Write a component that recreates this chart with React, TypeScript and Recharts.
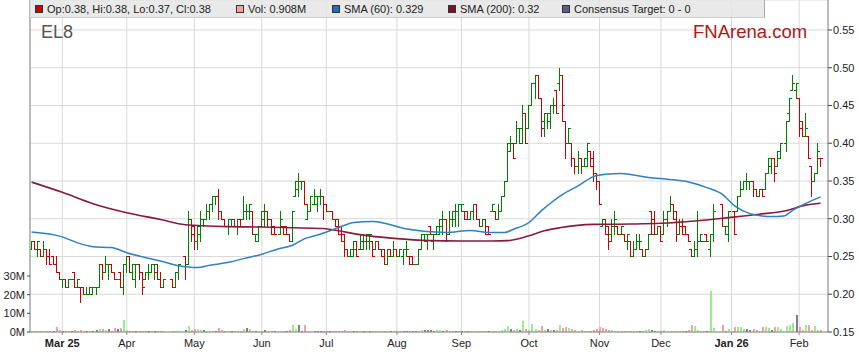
import React from 'react'
import { ComposedChart, Bar, Line, XAxis, YAxis, CartesianGrid } from 'recharts'

// one entry per weekday: [open, high, low, close, volume in millions]; null = ASX holiday
type Day = [number, number, number, number, number] | null

const feb25: Day[] = [
  [0.26, 0.27, 0.26, 0.27, 0.5], [0.27, 0.27, 0.26, 0.26, 0.4], [0.26, 0.27, 0.25, 0.27, 0.6], [0.26, 0.26, 0.25, 0.25, 0.8], [0.25, 0.27, 0.25, 0.26, 0.6],
  [0.26, 0.26, 0.24, 0.25, 0.7], [0.25, 0.26, 0.24, 0.24, 0.6], [0.25, 0.25, 0.24, 0.24, 0.5], [0.24, 0.25, 0.23, 0.23, 2.5], [0.23, 0.23, 0.22, 0.22, 1.2],
]
const mar25: Day[] = [
  [0.22, 0.22, 0.21, 0.22, 0.8], [0.22, 0.22, 0.21, 0.21, 0.6], [0.21, 0.22, 0.21, 0.22, 0.5], [0.22, 0.22, 0.22, 0.22, 0.4], [0.23, 0.23, 0.21, 0.21, 0.9],
  [0.21, 0.22, 0.21, 0.22, 0.6], [0.21, 0.21, 0.19, 0.21, 1.0], [0.21, 0.21, 0.2, 0.2, 0.7], [0.2, 0.21, 0.2, 0.2, 0.5], [0.2, 0.21, 0.2, 0.21, 0.6],
  [0.2, 0.21, 0.2, 0.21, 0.8], [0.21, 0.21, 0.2, 0.21, 1.0], [0.21, 0.24, 0.21, 0.24, 1.6], [0.24, 0.24, 0.22, 0.23, 1.5], [0.23, 0.25, 0.23, 0.24, 1.3],
  [0.24, 0.24, 0.22, 0.24, 1.5], [0.24, 0.24, 0.23, 0.23, 0.6], [0.23, 0.23, 0.22, 0.22, 2.0], [0.22, 0.22, 0.22, 0.22, 1.4], [0.23, 0.23, 0.21, 0.21, 2.0],
  [0.21, 0.24, 0.2, 0.24, 6.6],
]
const apr25: Day[] = [
  [0.24, 0.25, 0.23, 0.25, 1.0], [0.25, 0.25, 0.23, 0.23, 0.8], [0.23, 0.24, 0.22, 0.24, 0.6], [0.22, 0.24, 0.21, 0.24, 0.7], [0.24, 0.24, 0.22, 0.23, 0.5],
  [0.23, 0.23, 0.2, 0.21, 0.8], [0.22, 0.23, 0.22, 0.23, 0.6], [0.23, 0.24, 0.22, 0.23, 0.5], [0.23, 0.24, 0.23, 0.24, 0.6], [0.24, 0.24, 0.22, 0.24, 0.5],
  [0.23, 0.24, 0.22, 0.22, 0.6], [0.22, 0.23, 0.21, 0.21, 0.5], [0.21, 0.22, 0.21, 0.22, 0.5], null, null,
  [0.22, 0.22, 0.21, 0.21, 0.6], [0.21, 0.23, 0.21, 0.23, 0.7], [0.23, 0.24, 0.22, 0.24, 0.8], null, [0.25, 0.25, 0.22, 0.24, 1.0],
  [0.24, 0.31, 0.24, 0.3, 3.4], [0.3, 0.3, 0.27, 0.28, 1.0],
]
const may25: Day[] = [
  [0.29, 0.29, 0.26, 0.27, 1.5], [0.27, 0.29, 0.26, 0.29, 1.6], [0.28, 0.31, 0.27, 0.3, 1.3], [0.3, 0.3, 0.29, 0.3, 1.0], [0.3, 0.32, 0.3, 0.31, 0.8],
  [0.31, 0.32, 0.3, 0.32, 0.6], [0.32, 0.33, 0.31, 0.33, 0.7], [0.33, 0.33, 0.32, 0.33, 0.6], [0.33, 0.34, 0.3, 0.31, 2.3], [0.31, 0.31, 0.3, 0.3, 1.0],
  [0.3, 0.3, 0.29, 0.29, 0.7], [0.29, 0.3, 0.28, 0.3, 0.5], [0.29, 0.3, 0.29, 0.3, 0.6], [0.3, 0.3, 0.29, 0.29, 0.5], [0.29, 0.3, 0.28, 0.3, 0.6],
  [0.3, 0.3, 0.29, 0.29, 0.5], [0.3, 0.33, 0.3, 0.31, 1.5], [0.31, 0.32, 0.3, 0.31, 2.3], [0.31, 0.32, 0.3, 0.32, 1.4], [0.31, 0.31, 0.28, 0.28, 0.6],
  [0.28, 0.28, 0.27, 0.28, 0.5], [0.27, 0.29, 0.27, 0.29, 0.6],
]
const jun25: Day[] = [
  [0.29, 0.31, 0.29, 0.31, 0.7], [0.3, 0.32, 0.29, 0.31, 1.0], [0.31, 0.31, 0.29, 0.3, 0.6], [0.3, 0.3, 0.28, 0.28, 0.5], [0.29, 0.29, 0.28, 0.28, 0.6],
  null, [0.28, 0.31, 0.28, 0.3, 0.5], [0.29, 0.29, 0.28, 0.28, 0.7], [0.29, 0.29, 0.28, 0.28, 0.6], [0.28, 0.28, 0.27, 0.27, 1.2],
  [0.27, 0.31, 0.27, 0.31, 3.9], [0.33, 0.35, 0.33, 0.35, 1.5], [0.34, 0.36, 0.33, 0.35, 3.9], [0.35, 0.35, 0.34, 0.35, 0.8], [0.35, 0.35, 0.32, 0.32, 3.9],
  [0.3, 0.32, 0.3, 0.31, 0.8], [0.31, 0.33, 0.31, 0.33, 0.6], [0.32, 0.34, 0.32, 0.33, 0.7], [0.32, 0.33, 0.31, 0.33, 0.5], [0.33, 0.34, 0.32, 0.33, 0.6],
  [0.33, 0.33, 0.3, 0.32, 0.5],
]
const jul25: Day[] = [
  [0.32, 0.32, 0.31, 0.31, 0.5], [0.31, 0.31, 0.31, 0.31, 0.4], [0.31, 0.31, 0.3, 0.3, 0.6], [0.3, 0.3, 0.29, 0.29, 0.5], [0.3, 0.3, 0.28, 0.28, 0.7],
  [0.29, 0.29, 0.27, 0.27, 0.8], [0.28, 0.28, 0.25, 0.26, 1.0], [0.26, 0.26, 0.25, 0.25, 0.7], [0.25, 0.26, 0.25, 0.26, 0.6], [0.25, 0.27, 0.25, 0.26, 0.5],
  [0.27, 0.27, 0.25, 0.25, 0.6], [0.26, 0.28, 0.26, 0.27, 0.5], [0.26, 0.28, 0.26, 0.27, 0.6], [0.27, 0.28, 0.26, 0.28, 0.5], [0.27, 0.28, 0.26, 0.28, 0.7],
  [0.27, 0.27, 0.25, 0.25, 0.6], [0.26, 0.27, 0.26, 0.27, 0.5], [0.27, 0.27, 0.26, 0.26, 0.6], [0.26, 0.26, 0.25, 0.25, 0.5], [0.26, 0.26, 0.24, 0.24, 0.7],
  [0.24, 0.26, 0.24, 0.25, 0.6], [0.26, 0.26, 0.25, 0.25, 0.5], [0.25, 0.27, 0.25, 0.26, 0.6],
]
const aug25: Day[] = [
  [0.26, 0.26, 0.25, 0.25, 0.5], [0.25, 0.26, 0.25, 0.26, 0.6], [0.25, 0.26, 0.24, 0.26, 0.5], [0.26, 0.27, 0.25, 0.26, 0.7], [0.25, 0.25, 0.24, 0.24, 0.6],
  [0.25, 0.25, 0.24, 0.24, 0.5], [0.24, 0.24, 0.24, 0.24, 0.5], [0.24, 0.26, 0.24, 0.26, 0.8], [0.26, 0.28, 0.26, 0.28, 1.2], [0.28, 0.28, 0.27, 0.28, 0.9],
  [0.27, 0.28, 0.26, 0.28, 1.0], [0.29, 0.29, 0.28, 0.28, 1.2], [0.27, 0.28, 0.26, 0.28, 0.8], [0.28, 0.29, 0.28, 0.29, 0.9], [0.28, 0.3, 0.28, 0.3, 1.0],
  [0.29, 0.31, 0.28, 0.3, 0.8], [0.3, 0.3, 0.27, 0.28, 0.9], [0.28, 0.31, 0.28, 0.3, 0.7], [0.3, 0.31, 0.29, 0.31, 0.8], [0.3, 0.32, 0.29, 0.31, 0.6],
  [0.31, 0.32, 0.29, 0.32, 0.7],
]
const sep25: Day[] = [
  [0.32, 0.32, 0.31, 0.32, 0.5], [0.31, 0.31, 0.3, 0.3, 0.6], [0.31, 0.31, 0.3, 0.3, 0.5], [0.3, 0.31, 0.3, 0.31, 0.6], [0.31, 0.32, 0.3, 0.32, 0.5],
  [0.32, 0.32, 0.3, 0.3, 0.6], [0.3, 0.3, 0.29, 0.29, 0.5], [0.29, 0.3, 0.29, 0.3, 0.6], [0.3, 0.3, 0.28, 0.28, 0.5], [0.29, 0.29, 0.28, 0.28, 0.6],
  [0.31, 0.32, 0.31, 0.32, 0.7], [0.31, 0.31, 0.3, 0.3, 0.6], [0.3, 0.32, 0.3, 0.31, 0.8], [0.31, 0.33, 0.31, 0.33, 1.0], [0.33, 0.35, 0.33, 0.35, 1.5],
  [0.35, 0.4, 0.35, 0.4, 3.4], [0.39, 0.41, 0.39, 0.4, 1.5], [0.4, 0.4, 0.38, 0.38, 1.3], [0.4, 0.43, 0.4, 0.42, 1.5], [0.42, 0.42, 0.4, 0.42, 1.0],
  [0.4, 0.45, 0.4, 0.44, 6.0], [0.44, 0.44, 0.4, 0.4, 1.5],
]
const oct25: Day[] = [
  [0.42, 0.45, 0.42, 0.45, 1.2], [0.45, 0.48, 0.45, 0.48, 4.5], [0.48, 0.49, 0.46, 0.49, 1.5], [0.49, 0.49, 0.46, 0.46, 1.2], [0.46, 0.46, 0.41, 0.42, 3.4],
  [0.43, 0.44, 0.41, 0.44, 1.0], [0.44, 0.44, 0.42, 0.44, 1.5], [0.43, 0.45, 0.42, 0.45, 1.0], [0.45, 0.46, 0.44, 0.45, 1.0], [0.47, 0.47, 0.44, 0.44, 1.3],
  [0.48, 0.5, 0.47, 0.49, 3.9], [0.49, 0.49, 0.43, 0.45, 2.3], [0.43, 0.43, 0.38, 0.4, 2.8], [0.4, 0.42, 0.4, 0.42, 2.0], [0.4, 0.4, 0.37, 0.38, 1.5],
  [0.38, 0.38, 0.36, 0.37, 1.0], [0.37, 0.39, 0.36, 0.38, 0.8], [0.38, 0.38, 0.36, 0.37, 0.9], [0.37, 0.38, 0.37, 0.38, 0.8], [0.37, 0.4, 0.37, 0.4, 0.7],
  [0.39, 0.39, 0.37, 0.37, 0.6], [0.38, 0.39, 0.35, 0.36, 1.0], [0.36, 0.36, 0.34, 0.35, 1.5],
]
const nov25: Day[] = [
  [0.35, 0.35, 0.32, 0.32, 2.5], [0.29, 0.3, 0.29, 0.3, 2.0], [0.3, 0.3, 0.28, 0.28, 1.5], [0.29, 0.29, 0.26, 0.27, 1.2], [0.28, 0.3, 0.27, 0.29, 0.9],
  [0.29, 0.31, 0.28, 0.3, 0.8], [0.29, 0.29, 0.28, 0.28, 0.7], [0.28, 0.29, 0.28, 0.29, 0.5], [0.28, 0.28, 0.27, 0.27, 0.6], [0.27, 0.28, 0.26, 0.28, 0.5],
  [0.27, 0.27, 0.25, 0.25, 0.5], [0.25, 0.27, 0.25, 0.26, 0.6], [0.26, 0.28, 0.26, 0.27, 0.6], [0.27, 0.28, 0.26, 0.27, 0.7], [0.26, 0.26, 0.25, 0.25, 0.8],
  [0.25, 0.26, 0.25, 0.26, 1.0], [0.26, 0.28, 0.26, 0.28, 1.5], [0.31, 0.31, 0.28, 0.28, 1.2], [0.3, 0.31, 0.28, 0.28, 0.8], [0.28, 0.29, 0.28, 0.29, 0.7],
]
const dec25: Day[] = [
  [0.29, 0.29, 0.27, 0.27, 0.8], [0.28, 0.31, 0.28, 0.3, 0.9], [0.3, 0.31, 0.29, 0.31, 0.6], [0.31, 0.33, 0.31, 0.32, 0.8], [0.32, 0.32, 0.3, 0.3, 0.5],
  [0.31, 0.31, 0.27, 0.28, 0.5], [0.28, 0.3, 0.28, 0.29, 0.6], [0.29, 0.3, 0.28, 0.28, 0.5], [0.29, 0.29, 0.28, 0.28, 0.6], [0.28, 0.28, 0.27, 0.27, 1.0],
  [0.26, 0.26, 0.25, 0.25, 3.9], [0.25, 0.27, 0.25, 0.26, 3.0], [0.26, 0.31, 0.25, 0.27, 1.2], [0.27, 0.28, 0.27, 0.28, 0.8], [0.27, 0.27, 0.27, 0.27, 0.6],
  [0.28, 0.28, 0.27, 0.27, 0.7], [0.26, 0.28, 0.25, 0.28, 22], [0.28, 0.32, 0.27, 0.31, 2.0], null, null,
  [0.32, 0.32, 0.29, 0.29, 3.9], [0.29, 0.29, 0.28, 0.29, 0.6], [0.28, 0.31, 0.27, 0.31, 1.5],
]
const jan26: Day[] = [
  null, [0.31, 0.31, 0.28, 0.28, 2.5], [0.31, 0.33, 0.31, 0.33, 2.8], [0.33, 0.35, 0.33, 0.34, 2.6], [0.34, 0.35, 0.34, 0.35, 1.4],
  [0.35, 0.36, 0.34, 0.35, 1.4], [0.35, 0.35, 0.34, 0.35, 1.3], [0.35, 0.35, 0.33, 0.34, 1.4], [0.34, 0.34, 0.33, 0.33, 1.2], [0.33, 0.34, 0.33, 0.34, 0.8],
  [0.34, 0.34, 0.33, 0.33, 2.5], [0.34, 0.36, 0.34, 0.36, 2.6], [0.36, 0.38, 0.36, 0.38, 2.4], [0.37, 0.38, 0.36, 0.38, 1.0], [0.38, 0.38, 0.35, 0.36, 2.5],
  [0.37, 0.39, 0.37, 0.39, 2.9], [0.38, 0.4, 0.38, 0.4, 1.5], null, [0.4, 0.43, 0.39, 0.43, 3.4], [0.44, 0.46, 0.43, 0.46, 3.6],
  [0.47, 0.49, 0.47, 0.48, 4.8], [0.47, 0.48, 0.46, 0.48, 9.3],
]
const feb26: Day[] = [
  [0.46, 0.46, 0.41, 0.42, 2.9], [0.43, 0.43, 0.41, 0.41, 1.0], [0.41, 0.44, 0.41, 0.42, 3.6], [0.41, 0.41, 0.38, 0.38, 3.8], [0.37, 0.37, 0.33, 0.35, 1.0],
  [0.35, 0.36, 0.35, 0.36, 3.4], [0.36, 0.4, 0.36, 0.39, 1.2], [0.38, 0.38, 0.37, 0.38, 0.908],
]

// moving averages at sample dates
const sma60Pts: [string, number][] = [
  ['2025-02-17', 0.2825], ['2025-03-03', 0.276], ['2025-03-10', 0.268], ['2025-03-17', 0.263], ['2025-03-25', 0.2618],
  ['2025-04-01', 0.255], ['2025-04-09', 0.2486], ['2025-04-16', 0.244], ['2025-04-24', 0.2376], ['2025-04-29', 0.236],
  ['2025-05-02', 0.2353], ['2025-05-08', 0.2384], ['2025-05-19', 0.243], ['2025-05-23', 0.2472], ['2025-06-02', 0.253],
  ['2025-06-09', 0.2596], ['2025-06-16', 0.2649], ['2025-06-20', 0.2737], ['2025-06-27', 0.2794], ['2025-07-07', 0.2883],
  ['2025-07-14', 0.2949], ['2025-07-22', 0.2962], ['2025-07-28', 0.294], ['2025-08-05', 0.2874], ['2025-08-13', 0.2839],
  ['2025-08-19', 0.2826], ['2025-08-25', 0.2817], ['2025-09-04', 0.2844], ['2025-09-12', 0.2817], ['2025-09-19', 0.2817],
  ['2025-09-24', 0.2861], ['2025-10-01', 0.295], ['2025-10-07', 0.3104], ['2025-10-16', 0.3324], ['2025-10-23', 0.3434],
  ['2025-10-30', 0.3558], ['2025-11-05', 0.3589], ['2025-11-12', 0.3598], ['2025-11-18', 0.358], ['2025-11-25', 0.3545],
  ['2025-12-03', 0.3523], ['2025-12-12', 0.3487], ['2025-12-22', 0.3412], ['2025-12-29', 0.3324], ['2026-01-02', 0.317],
  ['2026-01-09', 0.3068], ['2026-01-20', 0.3029], ['2026-01-26', 0.3037], ['2026-01-29', 0.3113], ['2026-02-04', 0.32],
  ['2026-02-11', 0.329],
]
const sma200Pts: [string, number][] = [
  ['2025-02-17', 0.3485], ['2025-03-03', 0.335], ['2025-03-17', 0.32], ['2025-04-01', 0.308], ['2025-04-16', 0.299],
  ['2025-04-28', 0.292], ['2025-05-16', 0.2895], ['2025-06-02', 0.289], ['2025-06-16', 0.288], ['2025-06-30', 0.287],
  ['2025-07-07', 0.284], ['2025-07-16', 0.279], ['2025-07-31', 0.274], ['2025-08-18', 0.271], ['2025-09-01', 0.2705],
  ['2025-09-15', 0.2705], ['2025-09-22', 0.271], ['2025-10-01', 0.2775], ['2025-10-08', 0.284], ['2025-10-15', 0.288],
  ['2025-10-30', 0.2925], ['2025-11-17', 0.293], ['2025-12-01', 0.294], ['2025-12-16', 0.297], ['2025-12-31', 0.3015],
  ['2026-01-14', 0.306], ['2026-01-27', 0.311], ['2026-02-04', 0.318], ['2026-02-11', 0.3205],
]

const monthTicks: [string, string, boolean][] = [
  ['2025-03-03', 'Mar 25', true], ['2025-04-01', 'Apr', false], ['2025-05-01', 'May', false], ['2025-06-02', 'Jun', false],
  ['2025-07-01', 'Jul', false], ['2025-08-01', 'Aug', false], ['2025-09-01', 'Sep', false], ['2025-10-01', 'Oct', false],
  ['2025-11-03', 'Nov', false], ['2025-12-01', 'Dec', false], ['2026-01-01', 'Jan 26', true], ['2026-02-02', 'Feb', false],
]
const priceTicks = [0.15, 0.2, 0.25, 0.3, 0.35, 0.4, 0.45, 0.5, 0.55]
const volTicks = [0, 10, 20, 30]

const FONT = '"Liberation Sans", Arial, Helvetica, sans-serif'
const UP = '#008000'
const DOWN = '#cc0000'
const VOL_UP = '#9aed8e'
const VOL_DOWN = '#f4a1a1'
const VOL_FLAT = '#808080'

function weekdays(start: string, n: number) {
  const out: string[] = []
  const t = new Date(start + 'T00:00:00Z')
  while (out.length < n) {
    const wd = t.getUTCDay()
    if (wd !== 0 && wd !== 6) out.push(t.toISOString().slice(0, 10))
    t.setUTCDate(t.getUTCDate() + 1)
  }
  return out
}

const days: Day[] = [...feb25, ...mar25, ...apr25, ...may25, ...jun25, ...jul25, ...aug25, ...sep25, ...oct25, ...nov25, ...dec25, ...jan26, ...feb26]
const dates = weekdays('2025-02-17', days.length)
const indexOf = new Map(dates.map((d, i) => [d, i]))

let prevClose: number | null = null
const rows: any[] = days.map((d, i) => {
  const r: any = { i, date: dates[i] }
  if (d) {
    const [o, h, l, c, v] = d
    const pc = prevClose ?? o
    r.o = o; r.h = h; r.l = l; r.c = c; r.v = v
    r.color = c > o ? UP : c < o ? DOWN : c >= pc ? UP : DOWN
    r.vcol = c > pc ? VOL_UP : c < pc ? VOL_DOWN : VOL_FLAT
    prevClose = c
  }
  return r
})
sma60Pts.forEach(([d, v]) => { rows[indexOf.get(d)!].sma60 = v })
sma200Pts.forEach(([d, v]) => { rows[indexOf.get(d)!].sma200 = v })

const tickIdx = monthTicks.map(([d]) => indexOf.get(d)!)
const tickInfo = new Map(monthTicks.map(([d, label, bold]) => [indexOf.get(d)!, { label, bold }]))

const last = days.filter(Boolean).slice(-1)[0]!
const legend = [
  { color: '#cc0000', x: 35, text: `Op:${last[0].toFixed(2)}, Hi:${last[1].toFixed(2)}, Lo:${last[2].toFixed(2)}, Cl:${last[3].toFixed(2)}` },
  { color: '#f4a1a1', x: 236, text: `Vol: ${last[4]}M` },
  { color: '#1f6fb0', x: 332, text: `SMA (60): ${sma60Pts[sma60Pts.length - 1][1]}` },
  { color: '#7c1230', x: 448, text: `SMA (200): ${sma200Pts[sma200Pts.length - 1][1].toFixed(2)}` },
  { color: '#5c5c8a', x: 562, text: 'Consensus Target: 0 - 0' },
]

const ohlcRange = (r: any) => (r.h == null ? null : [r.l, r.h > r.l ? r.h : r.h + 0.001])

function OhlcShape(props: any) {
  const { x, y, width, height, payload: p } = props
  if (!p || p.h == null || x == null) return <g />
  const top = p.h > p.l ? p.h : p.h + 0.001
  const k = Math.abs(height) / (top - p.l)
  const y0 = Math.min(y, y + height)
  const py = (v: number) => Math.round(y0 + (top - v) * k)
  const cx = Math.round(x + width / 2 - 0.5)
  const yh = py(p.h)
  const yl = py(p.l)
  return (
    <g fill={p.color} shapeRendering="crispEdges">
      <rect x={cx} y={yh} width={1} height={yl - yh + 1} />
      <rect x={cx - 2} y={py(p.o)} width={2} height={1} />
      <rect x={cx + 1} y={py(p.c)} width={2} height={1} />
    </g>
  )
}

function VolShape(props: any) {
  const { x, y, width, height, payload: p } = props
  if (!p || p.v == null || x == null) return <g />
  const bottom = Math.round(y + height)
  const topY = Math.min(Math.round(y), bottom - 1)
  return <rect x={Math.round(x + width / 2 - 1)} y={topY} width={2} height={bottom - topY} fill={p.vcol} shapeRendering="crispEdges" />
}

function MonthTick(props: any) {
  const { x, y, payload } = props
  const t = tickInfo.get(payload.value)
  if (!t) return <g />
  return (
    <text x={x} y={y} dy="0.71em" textAnchor="middle" fontSize={11} fontFamily={FONT} fill="#222" fontWeight={t.bold ? 'bold' : 'normal'}>
      {t.label}
    </text>
  )
}

export default function App() {
  return (
    <div style={{ position: 'absolute', left: 0, top: 0, width: 859, height: 363, background: '#fff', fontFamily: FONT }}>
      <ComposedChart width={859} height={363} data={rows} margin={{ top: 0, right: 0, bottom: 0, left: 0 }}>
        <CartesianGrid xAxisId="p" yAxisId="price" stroke="#d9d9d9" strokeWidth={1} />
        <XAxis
          xAxisId="p"
          dataKey="i"
          type="number"
          domain={[-0.52, 259.41]}
          allowDataOverflow
          ticks={tickIdx}
          interval={0}
          tick={<MonthTick />}
          height={31}
          tickSize={3}
          tickMargin={4}
          axisLine={{ stroke: '#888' }}
          tickLine={{ stroke: '#888' }}
        />
        <XAxis xAxisId="v" dataKey="i" type="number" domain={[-0.52, 259.41]} allowDataOverflow hide />
        <YAxis
          yAxisId="vol"
          orientation="left"
          width={30}
          domain={[0, 177.8]}
          allowDataOverflow
          ticks={volTicks}
          interval={0}
          tickFormatter={(v: number) => `${v}M`}
          tick={{ fontSize: 11, fill: '#222', fontFamily: FONT }}
          tickSize={3}
          tickMargin={2}
          axisLine={{ stroke: '#888' }}
          tickLine={{ stroke: '#444' }}
        />
        <YAxis
          yAxisId="price"
          orientation="right"
          width={31}
          domain={[0.15, 0.5897]}
          allowDataOverflow
          ticks={priceTicks}
          interval={0}
          tickFormatter={(v: number) => v.toFixed(2)}
          tick={{ fontSize: 11, fill: '#222', fontFamily: FONT }}
          tickSize={4}
          tickMargin={1}
          axisLine={{ stroke: '#888' }}
          tickLine={{ stroke: '#444' }}
        />
        <Bar xAxisId="v" yAxisId="vol" dataKey="v" barSize={2} shape={<VolShape />} isAnimationActive={false} />
        <Line xAxisId="p" yAxisId="price" dataKey="sma200" type="monotone" stroke="#8a1a3c" strokeWidth={1.6} dot={false} connectNulls isAnimationActive={false} />
        <Line xAxisId="p" yAxisId="price" dataKey="sma60" type="monotone" stroke="#2f80c0" strokeWidth={1.5} dot={false} connectNulls isAnimationActive={false} />
        <Bar xAxisId="p" yAxisId="price" dataKey={ohlcRange} barSize={3} shape={<OhlcShape />} isAnimationActive={false} />
      </ComposedChart>

      <div style={{ position: 'absolute', left: 30, top: 0, width: 734, height: 17, background: 'rgba(228,228,228,0.82)', borderRight: '1px solid #aaa', borderBottom: '1px solid #ccc' }}>
        {legend.map((it) => (
          <div key={it.text} style={{ position: 'absolute', left: it.x - 30, top: 0, height: 17, display: 'flex', alignItems: 'center', whiteSpace: 'nowrap' }}>
            <span style={{ display: 'inline-block', width: 6, height: 6, background: it.color, border: '1px solid #333', marginRight: 4 }} />
            <span style={{ fontSize: 11, color: '#222' }}>{it.text}</span>
          </div>
        ))}
      </div>

      <div style={{ position: 'absolute', left: 41, top: 21, fontSize: 18, color: '#555', lineHeight: '22px' }}>EL8</div>
      <div style={{ position: 'absolute', left: 693, top: 21, fontSize: 18.5, color: '#b01818', lineHeight: '22px' }}>FNArena.com</div>
    </div>
  )
}
